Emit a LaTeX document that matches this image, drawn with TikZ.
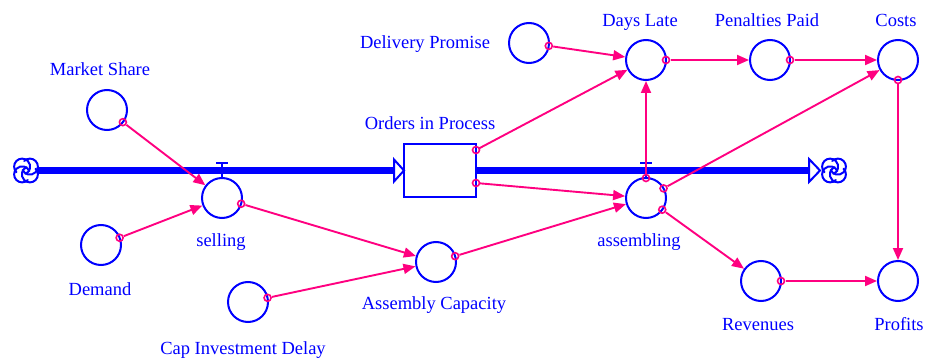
\documentclass[tikz,border=0pt]{standalone}
\usepackage{fontspec}
\setmainfont{Liberation Serif}
\usetikzlibrary{arrows.meta,calc}
\definecolor{vblue}{RGB}{0,0,255}
\definecolor{vpink}{RGB}{255,0,128}
\newcommand{\vcloud}[1]{%
  \foreach \a in {45,135,225,315} {%
    \draw[vblue,line width=2pt,line cap=round] ($(#1)+(\a:5.5)$) ++(\a-90:8) arc[start angle=\a-90, end angle=\a+200, radius=8];
  }%
}
\begin{document}
\begin{tikzpicture}[x=1pt,y=-1pt,
  aux/.style={circle,draw=vblue,line width=2pt,minimum size=40pt,inner sep=0pt},
  lbl/.style={text=vblue,anchor=base,font=\fontsize{18.5}{20}\selectfont,inner sep=0pt},
  conn/.style={draw=vpink,line width=1.9pt,shorten <=3.5pt,-{Triangle[length=12pt,width=10pt]}},
  mk/.style={draw=vpink,line width=1.6pt},
  pipe/.style={draw=vblue,line width=6pt},
  valve/.style={draw=vblue,line width=2pt},
  tipbox/.style={draw=vblue,line width=2pt,fill=white,line join=miter}]
\useasboundingbox (0,0) rectangle (925,358);

% stocks and clouds
\node[draw=vblue,line width=2pt,minimum width=72pt,minimum height=53pt,inner sep=0pt] (oip) at (440,170.5) {};
\coordinate (cl1) at (26,170.5);
\coordinate (cl2) at (834,170.5);
\vcloud{cl1}
\vcloud{cl2}

% auxiliaries
\node[aux] (ms)  at (107,110) {};
\node[aux] (dem) at (101,245) {};
\node[aux] (sel) at (222,198) {};
\node[aux] (cid) at (248,302) {};
\node[aux] (ac)  at (436,262) {};
\node[aux] (asm) at (646,198) {};
\node[aux] (dp)  at (529,43) {};
\node[aux] (dl)  at (646,60) {};
\node[aux] (pp)  at (770,60) {};
\node[aux] (co)  at (898,60) {};
\node[aux] (rev) at (761,281) {};
\node[aux] (pro) at (898,281) {};

% valves
\draw[valve] (sel.north) -- (222,163) (216,163) -- (228,163);
\draw[valve] (asm.north) -- (646,163) (640,163) -- (652,163);

% pipes
\draw[pipe] ([xshift=12pt]cl1) -- ([xshift=-8pt]oip.west);
\draw[tipbox] (394,159.5) -- (404,170.5) -- (394,181.5) -- cycle;
\draw[pipe] (oip.east) -- ([xshift=-23pt]cl2);
\draw[tipbox] (809,159) -- (820,170.5) -- (809,182) -- cycle;

% labels
\node[lbl] (lms)  at (100,76)  {Market Share};
\node[lbl] (ldem) at (100,295) {Demand};
\node[lbl] (lsel) at (221,246) {selling};
\node[lbl] (lcid) at (243,354) {Cap Investment Delay};
\node[lbl] (lac)  at (434,309) {Assembly Capacity};
\node[lbl] (loip) at (430,130) {Orders in Process};
\node[lbl] (lasm) at (639,246) {assembling};
\node[lbl] (ldp)  at (425,49)  {Delivery Promise};
\node[lbl] (ldl)  at (640,27)  {Days Late};
\node[lbl] (lpp)  at (767,27)  {Penalties Paid};
\node[lbl] (lco)  at (896,27)  {Costs};
\node[lbl] (lrev) at (758,330) {Revenues};
\node[lbl] (lpro) at (899,330) {Profits};

% connectors
\newcommand{\lnk}[2]{%
  \draw[conn] (#1) -- (#2);
  \draw[mk] ($(#1)!20pt!(#2)$) circle[radius=3.5];
}
\lnk{ms}{sel}
\lnk{dem}{sel}
\lnk{sel}{ac}
\lnk{cid}{ac}
\lnk{ac}{asm}
\lnk{dp}{dl}
\lnk{asm}{dl}
\lnk{dl}{pp}
\lnk{pp}{co}
\lnk{asm}{co}
\lnk{asm}{rev}
\lnk{rev}{pro}
\lnk{co}{pro}
\coordinate (b1) at ([yshift=20.5pt,xshift=-1pt]oip.east);
\coordinate (b2) at ([yshift=-12.5pt,xshift=-1pt]oip.east);
\draw[conn] (b1) -- (dl);
\draw[mk] (b1) circle[radius=3.5];
\draw[conn] (b2) -- (asm);
\draw[mk] (b2) circle[radius=3.5];
\end{tikzpicture}
\end{document}
